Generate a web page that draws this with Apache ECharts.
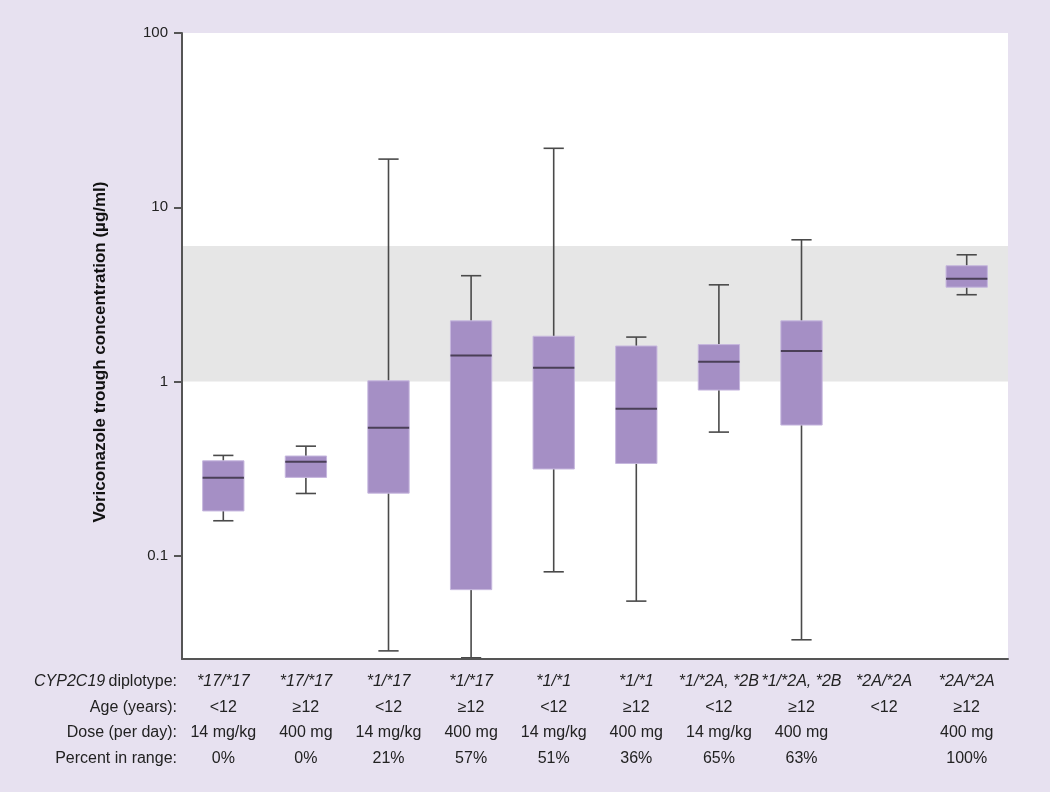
<!DOCTYPE html>
<html>
<head>
<meta charset="utf-8">
<script src="https://cdn.jsdelivr.net/npm/echarts@6/dist/echarts.min.js"></script>
<style>
html,body{margin:0;padding:0;background:#e7e1f0;}
#c{width:1050px;height:792px;}
</style>
</head>
<body>
<div id="c"></div>
<script>
// Categories / table rows
const diplotypes = ['*17/*17','*17/*17','*1/*17','*1/*17','*1/*1','*1/*1','*1/*2A, *2B','*1/*2A, *2B','*2A/*2A','*2A/*2A'];
const ages = ['<12','\u226512','<12','\u226512','<12','\u226512','<12','\u226512','<12','\u226512'];
const doses = ['14 mg/kg','400 mg','14 mg/kg','400 mg','14 mg/kg','400 mg','14 mg/kg','400 mg','','400 mg'];
const percents = ['0%','0%','21%','57%','51%','36%','65%','63%','','100%'];
const rowHeaders = ['diplotype:','Age (years):','Dose (per day):','Percent in range:'];

// Box plot statistics (µg/ml)
const lows    = [0.159, 0.228, 0.0285, 0.0260, 0.081, 0.055, 0.513, 0.033, null, 3.15];
const q1s     = [0.181, 0.282, 0.229, 0.064, 0.315, 0.339, 0.894, 0.563, null, 3.48];
const medians = [0.281, 0.347, 0.543, 1.41, 1.20, 0.698, 1.30, 1.50, null, 3.89];
const q3s     = [0.351, 0.374, 1.01, 2.23, 1.82, 1.60, 1.63, 2.23, null, 4.62];
const highs   = [0.377, 0.426, 18.9, 4.05, 21.8, 1.80, 3.59, 6.51, null, 5.34];

// Therapeutic range band
const rangeLow = 1;
const rangeHigh = 6;
const yTicks = [0.1, 1, 10, 100];

const cats = diplotypes.map((d, i) => String(i));
const boxData = [];
for (let i = 0; i < cats.length; i++) {
  if (medians[i] == null) continue;
  boxData.push([i, lows[i], q1s[i], medians[i], q3s[i], highs[i]]);
}

const chart = echarts.init(document.getElementById('c'), null, {renderer: 'canvas'});
const FONT = 'Liberation Sans, Arial, Helvetica, sans-serif';

chart.setOption({
  backgroundColor: '#e7e1f0',
  animation: false,
  grid: {left: 182, right: 42, top: 33, bottom: 133, backgroundColor: '#ffffff', show: true, borderWidth: 0},
  xAxis: {
    type: 'category',
    z: 10,
    data: cats,
    boundaryGap: true,
    axisLine: {lineStyle: {color: '#555', width: 2}},
    axisTick: {alignWithLabel: true, length: 8, lineStyle: {color: '#555', width: 2}},
    axisLabel: {
      margin: 10,
      interval: 0,
      fontFamily: FONT,
      formatter: function (v) {
        const i = +v;
        const e = (s) => (s === '' ? ' ' : s);
        return '{d|' + diplotypes[i] + '}\n{n|' + ages[i] + '}\n{n|' + e(doses[i]) + '}\n{n|' + e(percents[i]) + '}';
      },
      rich: {
        d: {fontStyle: 'italic', fontSize: 16, color: '#222', lineHeight: 25.5, fontFamily: FONT},
        n: {fontSize: 16, color: '#222', lineHeight: 25.5, fontFamily: FONT}
      }
    },
    splitLine: {show: false}
  },
  yAxis: {
    type: 'log',
    z: 10,
    logBase: 10,
    min: 0.0256,
    max: 100,
    axisLine: {show: true, lineStyle: {color: '#555', width: 2}},
    axisTick: {show: true, length: 8, customValues: yTicks, lineStyle: {color: '#555', width: 2}},
    axisLabel: {
      customValues: yTicks,
      margin: 14,
      fontSize: 15,
      color: '#222',
      fontFamily: FONT,
      formatter: function (v) { return String(+v.toPrecision(3)); }
    },
    splitLine: {show: false},
    minorTick: {show: false}
  },
  graphic: [
    {
      type: 'text',
      x: 100, y: 352,
      rotation: Math.PI / 2,
      style: {
        text: 'Voriconazole trough concentration (\u00b5g/ml)',
        fontSize: 17, fontWeight: 'bold', fontFamily: FONT,
        fill: '#111', align: 'center', verticalAlign: 'middle'
      }
    },
    {
      type: 'text', x: 177, y: 682,
      style: {
        text: '{i|CYP2C19} {n|' + rowHeaders[0] + '}',
        align: 'right', verticalAlign: 'middle',
        rich: {
          i: {fontStyle: 'italic', fontSize: 16, fill: '#222', fontFamily: FONT},
          n: {fontSize: 16, fill: '#222', fontFamily: FONT}
        }
      }
    },
    {type: 'text', x: 177, y: 707.5, style: {text: rowHeaders[1], align: 'right', verticalAlign: 'middle', fontSize: 16, fill: '#222', fontFamily: FONT}},
    {type: 'text', x: 177, y: 733, style: {text: rowHeaders[2], align: 'right', verticalAlign: 'middle', fontSize: 16, fill: '#222', fontFamily: FONT}},
    {type: 'text', x: 177, y: 758.5, style: {text: rowHeaders[3], align: 'right', verticalAlign: 'middle', fontSize: 16, fill: '#222', fontFamily: FONT}}
  ],
  series: [
    {
      type: 'line',
      data: [],
      z: 1,
      silent: true,
      markArea: {
        silent: true,
        itemStyle: {color: '#e6e6e6'},
        data: [[{yAxis: rangeLow}, {yAxis: rangeHigh}]]
      }
    },
    {
      type: 'custom',
      z: 5,
      data: boxData,
      renderItem: function (params, api) {
        const x = api.value(0);
        const pLow = api.coord([x, api.value(1)]);
        const pQ1 = api.coord([x, api.value(2)]);
        const pMed = api.coord([x, api.value(3)]);
        const pQ3 = api.coord([x, api.value(4)]);
        const pHigh = api.coord([x, api.value(5)]);
        const band = api.size([1, 0])[0];
        const bw = band * 0.5;
        const cw = band * 0.245;
        const cx = pMed[0];
        const wStyle = {stroke: '#4a4a4a', lineWidth: 1.6};
        return {
          type: 'group',
          children: [
            {type: 'line', shape: {x1: cx, y1: pQ3[1], x2: cx, y2: pHigh[1]}, style: wStyle},
            {type: 'line', shape: {x1: cx - cw / 2, y1: pHigh[1], x2: cx + cw / 2, y2: pHigh[1]}, style: wStyle},
            {type: 'line', shape: {x1: cx, y1: pQ1[1], x2: cx, y2: pLow[1]}, style: wStyle},
            {type: 'line', shape: {x1: cx - cw / 2, y1: pLow[1], x2: cx + cw / 2, y2: pLow[1]}, style: wStyle},
            {type: 'rect', shape: {x: cx - bw / 2, y: pQ3[1], width: bw, height: pQ1[1] - pQ3[1]},
              style: {fill: '#a58fc5', stroke: '#c6b7de', lineWidth: 1}},
            {type: 'line', shape: {x1: cx - bw / 2, y1: pMed[1], x2: cx + bw / 2, y2: pMed[1]},
              style: {stroke: '#4a3f57', lineWidth: 2}}
          ]
        };
      }
    }
  ]
});
</script>
</body>
</html>
